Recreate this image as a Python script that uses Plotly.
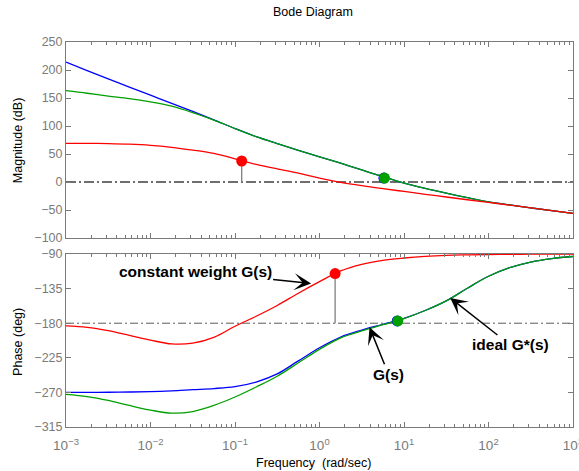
import plotly.graph_objects as go

# ---------------- data ----------------
freq = [0.001, 0.00178, 0.00316, 0.00562, 0.01, 0.0178, 0.0316, 0.0562,
        0.1, 0.178, 0.316, 0.562, 1, 1.78, 3.16, 5.62,
        10, 17.8, 31.6, 56.2, 100, 178, 316, 562, 1000]

# magnitude (dB)
mag_ideal = [214, 199, 184, 169.5, 155, 140.5, 126, 111,
             95.5, 81, 68.5, 56.5, 45, 33.5, 21.5, 9.5,
             -2, -11.5, -20, -28, -35.5, -41, -46.2, -51.1, -56]
mag_g = [163, 158.5, 153.5, 149, 143, 135.5, 124, 110.5,
         95.5, 81, 68.5, 56.5, 45, 33.5, 21.5, 9.5,
         -2, -11.5, -20, -28, -35.5, -41, -46.2, -51.1, -56]
mag_const = [69, 69, 68.5, 67.5, 65.5, 62, 57, 51,
             41.5, 31.5, 23.5, 16, 7, -0.5, -6.5, -11.8,
             -16.9, -22, -26.8, -31.7, -36.5, -41.3, -46.2, -51.1, -56]

# phase (deg)
ph_ideal = [-270, -270, -269.8, -269.5, -269, -268, -266.5, -265,
            -262.5, -256.5, -246, -229, -212, -198, -189, -181.5,
            -173.8, -163.5, -151, -134.5, -119, -107.8, -100.5, -96, -93.3]
ph_g = [-272.5, -275.5, -280.5, -287, -293, -297, -295, -287,
        -276, -263, -249, -231.5, -214, -199, -190, -182,
        -174, -163.5, -151, -134.5, -119, -107.8, -100.5, -96, -93.3]
ph_const = [-183.6, -185.4, -189.7, -195.8, -202, -207, -206, -198.5,
            -184, -171, -157, -141, -126, -112, -103.4, -98.2,
            -95.2, -93, -91.7, -91.1, -90.7, -90.4, -90.3, -90.2, -90.1]

# stability-margin markers
const_gm_freq, const_gm_mag = 0.120, 37.5
const_pm_freq, const_pm_phase = 1.53, -115.5
g_gm_freq, g_gm_mag = 5.87, 7.0
g_pm_freq, g_pm_phase = 8.45, -177.0

mag_ref = 0
ph_ref = -180

freq_ticks = [0.001, 0.01, 0.1, 1, 10, 100, 1000]
freq_ticktext = ["10<sup>\u22123</sup>", "10<sup>\u22122</sup>", "10<sup>\u22121</sup>",
                 "10<sup>0</sup>", "10<sup>1</sup>", "10<sup>2</sup>", "10<sup>3</sup>"]
minor_ticks = [k * d for d in [0.001, 0.01, 0.1, 1, 10, 100] for k in range(2, 10)]
mag_ticks = [-100, -50, 0, 50, 100, 150, 200, 250]
ph_ticks = [-315, -270, -225, -180, -135, -90]

BLUE = "#0000ff"
GREEN = "#00a000"
RED = "#ff0000"
AX = "#7a7a7a"
STEM = "#7f7f7f"
FONT = "Liberation Sans, Arial, sans-serif"

fig = go.Figure()

def curve(x, y, color, xa, ya):
    fig.add_trace(go.Scatter(x=x, y=y, mode="lines", xaxis=xa, yaxis=ya,
                             line=dict(color=color, width=1.3, shape="spline", smoothing=1.0),
                             hoverinfo="skip", showlegend=False))

def ref_line(yv, xa, ya, width, color, dash):
    fig.add_trace(go.Scatter(x=[freq[0], freq[-1]], y=[yv, yv], mode="lines", xaxis=xa, yaxis=ya,
                             line=dict(color=color, width=width, dash=dash),
                             hoverinfo="skip", showlegend=False))

def stem(xv, y0, y1, xa, ya):
    fig.add_trace(go.Scatter(x=[xv, xv], y=[y0, y1], mode="lines", xaxis=xa, yaxis=ya,
                             line=dict(color=STEM, width=1.3),
                             hoverinfo="skip", showlegend=False))

def dot(xv, yv, color, xa, ya):
    fig.add_trace(go.Scatter(x=[xv], y=[yv], mode="markers", xaxis=xa, yaxis=ya,
                             marker=dict(color=color, size=11, line=dict(width=0)),
                             hoverinfo="skip", showlegend=False))

# magnitude
ref_line(mag_ref, "x", "y", 2, "#6e6e6e", "10px,3px,2px,3px")
curve(freq, mag_ideal, BLUE, "x", "y")
curve(freq, mag_g, GREEN, "x", "y")
curve(freq, mag_const, RED, "x", "y")
stem(const_gm_freq, mag_ref, const_gm_mag, "x", "y")
stem(g_gm_freq, mag_ref, g_gm_mag, "x", "y")
dot(g_gm_freq * 0.985, g_gm_mag, BLUE, "x", "y")
dot(g_gm_freq, g_gm_mag, GREEN, "x", "y")
dot(const_gm_freq, const_gm_mag, RED, "x", "y")

# phase
ref_line(ph_ref, "x2", "y2", 1, "#5a5a5a", "8px,3px,2px,3px")
curve(freq, ph_ideal, BLUE, "x2", "y2")
curve(freq, ph_g, GREEN, "x2", "y2")
curve(freq, ph_const, RED, "x2", "y2")
stem(const_pm_freq, ph_ref, const_pm_phase, "x2", "y2")
stem(g_pm_freq, ph_ref, g_pm_phase, "x2", "y2")
dot(g_pm_freq * 0.985, g_pm_phase, BLUE, "x2", "y2")
dot(g_pm_freq, g_pm_phase, GREEN, "x2", "y2")
dot(const_pm_freq, const_pm_phase, RED, "x2", "y2")

common_x = dict(type="log", range=[-3, 3], showline=True, linecolor=AX, linewidth=1,
                mirror="allticks", ticks="inside", ticklen=5, tickcolor=AX,
                tickmode="array", tickvals=freq_ticks, ticktext=freq_ticktext,
                minor=dict(tickmode="array", tickvals=minor_ticks, ticks="inside",
                           ticklen=3, tickcolor=AX, showgrid=False),
                showgrid=False, zeroline=False, automargin=False,
                ticklabeloverflow="allow",
                tickfont=dict(family=FONT, size=13.5, color=AX))
common_y = dict(showline=True, linecolor=AX, linewidth=1, mirror="allticks",
                ticks="inside", ticklen=5, tickcolor=AX, showgrid=False, zeroline=False,
                automargin=False, tickmode="array",
                tickfont=dict(family=FONT, size=12.5, color=AX))

fig.update_layout(
    width=579, height=471,
    margin=dict(l=66, r=6, t=42, b=44),
    paper_bgcolor="white", plot_bgcolor="white",
    font=dict(family=FONT, color="black"),
    showlegend=False,
    xaxis=dict(common_x, anchor="y", showticklabels=False),
    yaxis=dict(common_y, domain=[0.4909, 1.0], range=[-100, 250], tickvals=mag_ticks, anchor="x"),
    xaxis2=dict(common_x, anchor="y2", showticklabels=True, ticklabelstandoff=6),
    yaxis2=dict(common_y, domain=[0.0, 0.4494], range=[-315, -90], tickvals=ph_ticks, anchor="x2"),
)

ann = []
# titles
ann.append(dict(text="Bode Diagram", xref="paper", yref="paper", x=0.488, y=1.078,
                showarrow=False, font=dict(size=12.5, family=FONT, color="black"),
                xanchor="center", yanchor="middle"))
ann.append(dict(text="Magnitude (dB)", xref="paper", yref="paper", x=-0.0947, y=0.745,
                textangle=-90, showarrow=False, font=dict(size=12.5, family=FONT, color="black"),
                xanchor="center", yanchor="middle"))
ann.append(dict(text="Phase (deg)", xref="paper", yref="paper", x=-0.0947, y=0.221,
                textangle=-90, showarrow=False, font=dict(size=12.5, family=FONT, color="black"),
                xanchor="center", yanchor="middle"))
ann.append(dict(text="Frequency\u00a0 (rad/sec)", xref="paper", yref="paper", x=0.488, y=-0.0935,
                showarrow=False, font=dict(size=12.5, family=FONT, color="black"),
                xanchor="center", yanchor="middle"))

# labelled arrows
arrow_style = dict(showarrow=True, arrowhead=3, arrowsize=1.9, arrowwidth=1.5,
                   arrowcolor="black", axref="pixel", ayref="pixel",
                   font=dict(size=15.5, family=FONT, color="black"))
ann.append(dict(arrow_style, text="<b>constant weight G(s)</b>", xref="x2", yref="y2",
                x=-0.0994, y=-128.4, ax=-116, ay=-12))
ann.append(dict(arrow_style, text="<b>G(s)</b>", xref="x2", yref="y2",
                x=0.592, y=-185.3, ax=19, ay=47))
ann.append(dict(arrow_style, text="<b>ideal G*(s)</b>", xref="x2", yref="y2",
                x=1.547, y=-147.2, ax=60, ay=47))

fig.update_layout(annotations=ann)
fig.write_html("out.html", config={"displayModeBar": False},
               post_script="document.body.style.margin='0px';document.body.style.overflow='hidden';")
